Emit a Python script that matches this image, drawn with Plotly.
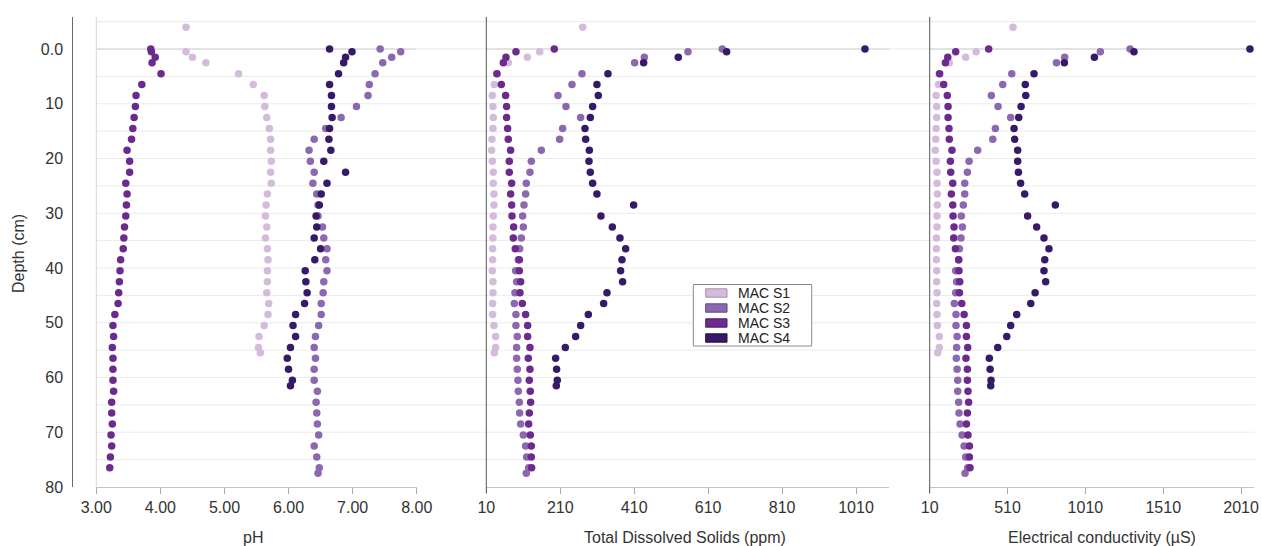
import plotly.graph_objects as go

# ---------------- data ----------------
series_names = ["MAC S1", "MAC S2", "MAC S3", "MAC S4"]
colors = ["#d4bbdc", "#8c68b0", "#6c2a8e", "#361a68"]

depth_s1 = [-4, 0.5, 1.5, 2.5, 4.5, 6.5, 8.5, 10.5, 12.5, 14.5, 16.5, 18.5, 20.5, 22.5, 24.5,
            26.5, 28.5, 30.5, 32.5, 34.5, 36.5, 38.5, 40.5, 42.5, 44.5, 46.5, 48.5, 50.5, 52.5,
            54.5, 55.5]
depth_s2 = [0, 0.5, 1.5, 2.5, 4.5, 6.5, 8.5, 10.5, 12.5, 14.5, 16.5, 18.5, 20.5, 22.5, 24.5,
            26.5, 28.5, 30.5, 32.5, 34.5, 36.5, 38.5, 40.5, 42.5, 44.5, 46.5, 48.5, 50.5, 52.5,
            54.5, 56.5, 58.5, 60.5, 62.5, 64.5, 66.5, 68.5, 70.5, 72.5, 74.5, 76.5, 77.5]
depth_s3 = [0, 0.5, 1.5, 2.5, 4.5, 6.5, 8.5, 10.5, 12.5, 14.5, 16.5, 18.5, 20.5, 22.5, 24.5,
            26.5, 28.5, 30.5, 32.5, 34.5, 36.5, 38.5, 40.5, 42.5, 44.5, 46.5, 48.5, 50.5, 52.5,
            54.5, 56.5, 58.5, 60.5, 62.5, 64.5, 66.5, 68.5, 70.5, 72.5, 74.5, 76.5]
depth_s4 = [0, 0.5, 1.5, 2.5, 4.5, 6.5, 8.5, 10.5, 12.5, 14.5, 16.5, 18.5, 20.5, 22.5, 24.5,
            26.5, 28.5, 30.5, 32.5, 34.5, 36.5, 38.5, 40.5, 42.5, 44.5, 46.5, 48.5, 50.5, 52.5,
            54.5, 56.5, 58.5, 60.5, 61.5]

ph_s1 = [4.40, 4.40, 4.50, 4.71, 5.22, 5.45, 5.62, 5.63, 5.66, 5.70, 5.72, 5.72, 5.73, 5.72, 5.73,
         5.67, 5.65, 5.64, 5.66, 5.64, 5.67, 5.68, 5.67, 5.67, 5.66, 5.69, 5.68, 5.62, 5.54, 5.53, 5.56]
ph_s2 = [7.43, 7.75, 7.61, 7.47, 7.35, 7.26, 7.24, 7.06, 6.82, 6.58, 6.40, 6.32, 6.34, 6.40, 6.38,
         6.44, 6.46, 6.46, 6.53, 6.55, 6.60, 6.58, 6.60, 6.55, 6.54, 6.51, 6.51, 6.47, 6.42, 6.40,
         6.42, 6.40, 6.40, 6.45, 6.43, 6.44, 6.45, 6.47, 6.40, 6.44, 6.48, 6.46]
ph_s3 = [3.85, 3.86, 3.92, 3.87, 4.01, 3.71, 3.62, 3.61, 3.59, 3.57, 3.55, 3.48, 3.52, 3.52, 3.46,
         3.48, 3.47, 3.46, 3.44, 3.43, 3.42, 3.38, 3.37, 3.36, 3.35, 3.34, 3.29, 3.26, 3.27, 3.25,
         3.26, 3.26, 3.26, 3.27, 3.24, 3.24, 3.25, 3.23, 3.24, 3.22, 3.21]
ph_s4 = [6.64, 6.99, 6.89, 6.86, 6.78, 6.64, 6.67, 6.67, 6.68, 6.64, 6.63, 6.66, 6.55, 6.89, 6.60,
         6.51, 6.48, 6.43, 6.44, 6.40, 6.50, 6.41, 6.26, 6.27, 6.29, 6.25, 6.11, 6.07, 6.11, 6.03,
         5.98, 6.00, 6.06, 6.03]

tds_s1 = [270.6, 154.3, 120.9, 69.5, 38.0, 31.6, 26.2, 28.0, 28.9, 28.0, 25.3, 24.4, 26.2, 28.9, 28.9,
          30.7, 30.7, 28.9, 28.0, 28.0, 27.1, 27.1, 26.2, 28.0, 28.0, 27.1, 27.1, 30.7, 35.2, 35.2, 31.6]
tds_s2 = [648.3, 555.5, 437.4, 411.2, 268.8, 241.7, 203.8, 225.5, 265.2, 216.5, 208.4, 158.8, 131.7,
          128.1, 118.2, 116.4, 111.9, 108.3, 110.1, 104.7, 100.2, 96.6, 89.3, 92.0, 87.5, 85.7, 90.2,
          90.2, 93.8, 92.0, 92.0, 93.8, 95.7, 96.6, 99.3, 100.2, 102.9, 110.1, 116.4, 119.1, 124.5, 118.2]
tds_s3 = [193.9, 90.2, 63.2, 56.0, 38.9, 50.6, 62.3, 65.0, 65.0, 67.7, 69.5, 75.8, 72.2, 72.2, 78.5,
          75.8, 78.5, 79.4, 83.9, 83.0, 88.4, 99.3, 99.3, 102.9, 101.1, 107.4, 116.4, 121.8, 121.8,
          128.1, 123.6, 128.1, 126.3, 129.0, 129.9, 126.3, 124.5, 129.0, 131.7, 131.7, 132.6]
tds_s4 = [1034.2, 660.0, 529.3, 435.6, 339.1, 309.3, 312.9, 297.6, 291.3, 276.9, 278.7, 288.6, 287.7,
          291.3, 297.6, 309.3, 408.5, 320.1, 350.8, 371.5, 386.9, 376.9, 373.3, 378.7, 336.4, 327.4,
          285.9, 265.2, 251.6, 223.7, 197.5, 200.2, 202.0, 199.3]

ec_s1 = [545, 308, 241, 136, 70, 66, 51, 55, 55, 51, 49, 46, 51, 57, 57, 59, 59, 57, 57, 53, 53, 53,
         55, 55, 57, 55, 57, 59, 72, 72, 61]
ec_s2 = [1297, 1106, 877, 824, 537, 479, 406, 449, 530, 432, 415, 318, 263, 252, 235, 235, 226, 213,
         220, 211, 201, 196, 177, 183, 177, 168, 179, 179, 186, 183, 181, 186, 190, 190, 196, 198, 205,
         218, 231, 241, 254, 237]
ec_s3 = [389, 177, 126, 111, 74, 100, 123, 128, 128, 134, 136, 153, 143, 145, 158, 149, 158, 160, 166,
         164, 175, 196, 198, 203, 201, 216, 231, 246, 246, 254, 243, 252, 252, 256, 260, 252, 246, 256,
         265, 265, 269]
ec_s4 = [2067, 1322, 1068, 875, 680, 624, 627, 597, 582, 552, 556, 575, 575, 580, 594, 620, 817, 639,
         697, 744, 776, 749, 744, 755, 687, 659, 569, 530, 505, 447, 393, 398, 404, 402]

depths = [depth_s1, depth_s2, depth_s3, depth_s4]
ph = [ph_s1, ph_s2, ph_s3, ph_s4]
tds = [tds_s1, tds_s2, tds_s3, tds_s4]
ec = [ec_s1, ec_s2, ec_s3, ec_s4]

y_ticks = [0, 10, 20, 30, 40, 50, 60, 70, 80]
y_ticktext = ["0.0", "10", "20", "30", "40", "50", "60", "70", "80"]
grid_depths = [-5, 5, 10, 15, 20, 25, 30, 35, 40, 45, 50, 55, 60, 65, 70, 75]
x_titles = ["pH", "Total Dissolved Solids (ppm)", "Electrical conductivity (µS)"]

# ---------------- layout helpers ----------------
W, H = 1262, 546
FONT = "Liberation Sans, Arial, Helvetica, sans-serif"
TXT = "#333333"


def px(x):
    return x / W


def py(y):
    return 1 - y / H


fig = go.Figure()

axes = ["x", "x2", "x3"]
values = [ph, tds, ec]
for ax, vals in zip(axes, values):
    for i in range(4):
        fig.add_trace(go.Scatter(
            x=vals[i], y=depths[i], mode="markers", xaxis=ax, yaxis="y",
            name=series_names[i], showlegend=False,
            marker=dict(size=7.5, color=colors[i], line=dict(width=0)),
            cliponaxis=False,
        ))

shapes = []
# full-width horizontal gridlines
for d in grid_depths + [0]:
    shapes.append(dict(type="line", xref="paper", yref="y", x0=px(96), x1=px(1255), y0=d, y1=d,
                       line=dict(color="#ebebeb", width=1), layer="below"))
# darker zero lines in each panel
for ax, (a, b) in zip(axes, [(3, 8), (10, 1100), (10, 2080)]):
    shapes.append(dict(type="line", xref=ax, yref="y", x0=a, x1=b, y0=0, y1=0,
                       line=dict(color="#cfcfcf", width=1), layer="below"))
# panel left lines
shapes.append(dict(type="line", xref="paper", yref="paper", x0=px(96.3), x1=px(96.3),
                   y0=py(487), y1=py(17), line=dict(color="#d6d6d6", width=1), layer="below"))
for xx in [486.3, 929.7]:
    shapes.append(dict(type="line", xref="paper", yref="paper", x0=px(xx), x1=px(xx),
                       y0=py(493), y1=py(17), line=dict(color="#555555", width=1), layer="above"))

# legend (manual, rectangle swatches)
shapes.append(dict(type="rect", xref="paper", yref="paper", x0=px(693.3), x1=px(811.7),
                   y0=py(346), y1=py(284.5), line=dict(color="#8a8a8a", width=1),
                   fillcolor="white", layer="above"))
row_y = [293.0, 308.0, 323.0, 338.0]
border = ["#a58fab", "#5f4580", "#4d1c66", "#1e0d40"]
annotations = []
for i, name in enumerate(series_names):
    shapes.append(dict(type="rect", xref="paper", yref="paper", x0=px(705.7), x1=px(727),
                       y0=py(row_y[i] + 4.2), y1=py(row_y[i] - 4.2),
                       fillcolor=colors[i], line=dict(color=border[i], width=1), layer="above"))
    annotations.append(dict(xref="paper", yref="paper", x=px(736), y=py(row_y[i]),
                            xanchor="left", yanchor="middle", text=name, showarrow=False,
                            font=dict(family=FONT, size=14, color="#222222")))

# axis titles
for t, cx in zip(x_titles, [253, 685, 1102]):
    annotations.append(dict(xref="paper", yref="paper", x=px(cx), y=py(537), xanchor="center",
                            yanchor="middle", text=t, showarrow=False,
                            font=dict(family=FONT, size=16, color=TXT)))
annotations.append(dict(xref="paper", yref="paper", x=px(18), y=py(254), xanchor="center",
                        yanchor="middle", text="Depth (cm)", textangle=-90, showarrow=False,
                        font=dict(family=FONT, size=16, color=TXT)))

xcommon = dict(anchor="y", automargin=False, showgrid=False, zeroline=False, showline=True,
               linecolor="#c4c4c4", linewidth=1, ticks="outside", ticklen=6, tickcolor="#a8a8a8",
               tickfont=dict(family=FONT, size=16, color=TXT))

fig.update_layout(
    template="none",
    width=W, height=H,
    margin=dict(l=0, r=0, t=0, b=0, pad=0, autoexpand=False),
    paper_bgcolor="white", plot_bgcolor="white",
    showlegend=False,
    xaxis=dict(domain=[px(96.3), px(416.7)], range=[3, 8], tickvals=[3, 4, 5, 6, 7, 8],
               tickformat=".2f", **xcommon),
    xaxis2=dict(domain=[px(486.3), px(889.3)], range=[10, 1100], tick0=10, dtick=200, **xcommon),
    xaxis3=dict(domain=[px(929.7), px(1254.3)], range=[10, 2095], tick0=10, dtick=500, **xcommon),
    yaxis=dict(domain=[py(487), py(17)], range=[80, -5.85], anchor="free", position=px(72.3),
               automargin=False, showgrid=False, zeroline=False, showline=True,
               linecolor="#6a6a6a", linewidth=1,
               tickvals=y_ticks, ticktext=y_ticktext, ticks="outside", ticklen=6,
               tickcolor="rgba(0,0,0,0)",
               tickfont=dict(family=FONT, size=16, color=TXT)),
    shapes=shapes,
    annotations=annotations,
)

fig.write_html(
    "out.html",
    config={"displayModeBar": False},
    post_script="document.body.style.margin='0';document.body.style.padding='0';"
                "document.body.style.overflow='hidden';",
)
